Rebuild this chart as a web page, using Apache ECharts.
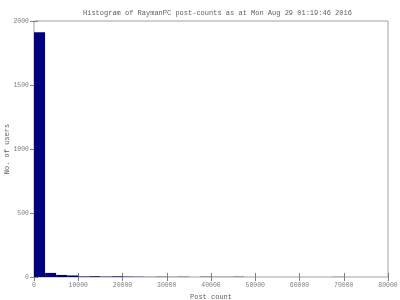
<!DOCTYPE html>
<html><head><meta charset="utf-8">
<script src="https://cdn.jsdelivr.net/npm/echarts@6/dist/echarts.min.js"></script>
<style>html,body{margin:0;padding:0;background:#fff}#c{width:400px;height:300px}</style>
</head><body><div id="c"></div>
<script>
var binStarts = [0,2500,5000,7500,10000,12500,15000,17500,20000,22500,25000,27500,30000,32500,35000,37500,40000,42500,45000,47500,50000,52500,55000,57500,60000,62500,65000,67500,70000,72500,75000,77500];
var binWidth = 2500;
var counts = [1912,32,16,12,4,6,3,5,3,2,1,2,1,2,0,2,1,1,2,0,0,0,0,0,0,0,0,1,0,0,0,0];
var titleText = 'Histogram of RaymanPC post-counts as at Mon Aug 29 01:19:46 2016';
var xName = 'Post count', yName = 'No. of users';

var font = 'Liberation Mono';
var grey = '#808080';
var data = binStarts.map(function(s,i){return [s, s+binWidth, counts[i]];});
var chart = echarts.init(document.getElementById('c'), null, {renderer:'canvas'});
var tickStyle = {show:true, inside:true, length:4, lineStyle:{color:grey}};
var fmt = function(v){return String(v);};
chart.setOption({
  animation:false,
  title:{text:titleText, left:78, top:5, textStyle:{fontFamily:font, fontSize:7, fontWeight:'normal', color:'#606060'}},
  grid:{left:34, right:12, top:21, bottom:23, show:true, borderColor:'#a0a0a0', borderWidth:1, containLabel:false, outerBoundsMode:'none'},
  xAxis:[{type:'value', min:0, max:80000, interval:10000, name:xName, nameLocation:'middle', nameGap:17, nameMoveOverlap:false,
    nameTextStyle:{fontFamily:font, fontSize:7, color:'#606060'},
    axisLine:{show:false}, axisTick:tickStyle, splitLine:{show:false},
    axisLabel:{fontFamily:font, fontSize:6.5, color:grey, margin:5, formatter:fmt}},
   {type:'value', position:'top', min:0, max:80000, interval:10000, axisLine:{show:false}, axisTick:tickStyle, axisLabel:{show:false}, splitLine:{show:false}}],
  yAxis:[{type:'value', min:0, max:2000, interval:500, name:yName, nameLocation:'middle', nameGap:23, nameRotate:90, nameMoveOverlap:false,
    nameTextStyle:{fontFamily:font, fontSize:7, color:'#606060'},
    axisLine:{show:false}, axisTick:tickStyle, splitLine:{show:false},
    axisLabel:{fontFamily:font, fontSize:6.5, color:grey, margin:5, formatter:fmt}},
   {type:'value', position:'right', min:0, max:2000, interval:500, axisLine:{show:false}, axisTick:tickStyle, axisLabel:{show:false}, splitLine:{show:false}}],
  series:[{type:'custom', data:data, encode:{x:[0,1], y:2},
    renderItem:function(params, api){
      var p0 = api.coord([api.value(0), api.value(2)]);
      var p1 = api.coord([api.value(1), 0]);
      return {type:'rect', shape:{x:p0[0], y:p0[1], width:p1[0]-p0[0], height:p1[1]-p0[1]}, style:{fill:'#000080'}};
    }}]
});
</script></body></html>
